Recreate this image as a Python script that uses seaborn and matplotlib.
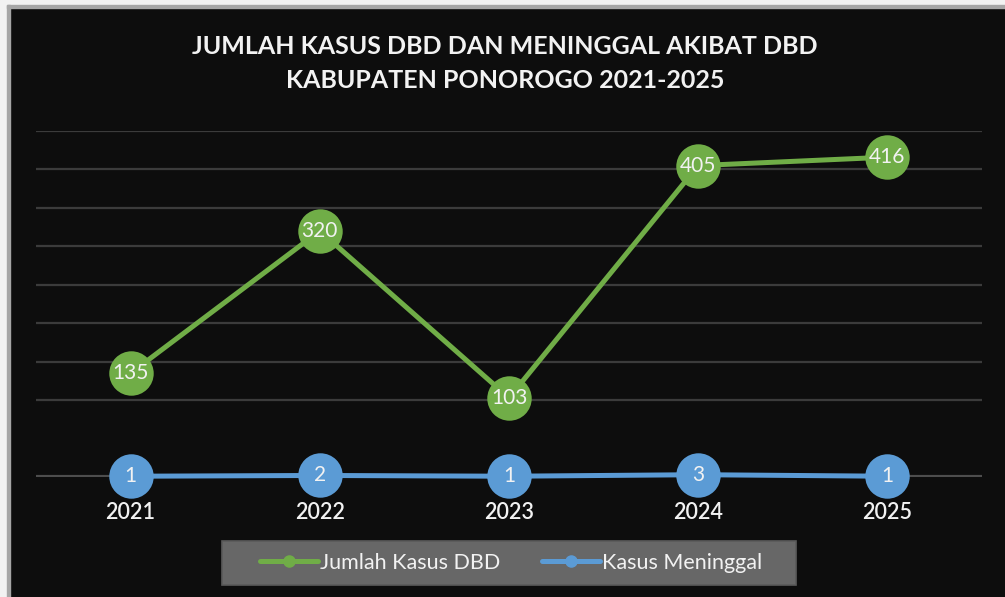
import pandas as pd
import matplotlib.pyplot as plt
import seaborn as sns
from matplotlib.lines import Line2D
from matplotlib.patches import Rectangle

tahun = ["2021", "2022", "2023", "2024", "2025"]
kasus_dbd = [135, 320, 103, 405, 416]
kasus_meninggal = [1, 2, 1, 3, 1]

df = pd.DataFrame({"tahun": range(len(tahun)), "dbd": kasus_dbd, "mati": kasus_meninggal})

sns.set_style("dark")
plt.rcParams["font.family"] = ["Lato", "DejaVu Sans"]

bg = "#0d0d0d"
hijau = "#70ad47"
biru = "#5b9bd5"

fig = plt.figure(figsize=(10.05, 5.97), dpi=100, facecolor=bg)
# frame at top and left edge
fig.patches.append(Rectangle((0, 0), 9 / 1005, 1, transform=fig.transFigure, color="#f2f2f2", zorder=0))
fig.patches.append(Rectangle((0, 1 - 7 / 597), 1, 7 / 597, transform=fig.transFigure, color="#f2f2f2", zorder=0))
fig.patches.append(Rectangle((7 / 1005, 0), 2.5 / 1005, 1 - 5 / 597, transform=fig.transFigure, color="#a6a6a6", zorder=1))
fig.patches.append(Rectangle((7 / 1005, 1 - 7.5 / 597), 1, 2.5 / 597, transform=fig.transFigure, color="#a6a6a6", zorder=1))
# legend box
fig.patches.append(Rectangle((222 / 1005, 1 - 585 / 597), 574 / 1005, 44 / 597, transform=fig.transFigure,
                             facecolor="#676767", edgecolor="#5a5a5a", lw=1.2, zorder=1))

ax = fig.add_axes([36 / 1005, 120 / 597, 946 / 1005, 346 / 597])
ax.set_facecolor(bg)

ax.set_ylim(0, 450)
ax.set_xlim(-0.5, 4.5)
for v in [100, 150, 200, 250, 300, 350, 400, 450]:
    ax.axhline(v, color="#3b3b3b", lw=1.6, zorder=1)
ax.axhline(0, color="#4d4d4d", lw=3, zorder=1)

sns.lineplot(data=df, x="tahun", y="dbd", ax=ax, color=hijau, lw=3.6, marker="o",
             markersize=32, markeredgewidth=0, zorder=3, clip_on=False)
sns.lineplot(data=df, x="tahun", y="mati", ax=ax, color=biru, lw=3.6, marker="o",
             markersize=32, markeredgewidth=0, zorder=3, clip_on=False)

for i, (a, b) in enumerate(zip(kasus_dbd, kasus_meninggal)):
    ax.text(i, a, str(a), ha="center", va="center", color="#f2f2f2", fontsize=15, zorder=5)
    ax.text(i, b, str(b), ha="center", va="center", color="#f2f2f2", fontsize=15, zorder=5)

ax.set_xticks(range(len(tahun)))
ax.set_xticklabels(tahun, color="#f2f2f2", fontsize=15.5, fontweight="semibold")
ax.tick_params(axis="x", length=0, pad=18)
ax.set_yticks([])
ax.set_xlabel("")
ax.set_ylabel("")
ax.grid(False)
for s in ax.spines.values():
    s.set_visible(False)

fig.text(505 / 1005, 1 - 47 / 597, "JUMLAH KASUS DBD DAN MENINGGAL AKIBAT DBD",
         ha="center", va="center", color="#f2f2f2", fontsize=18, fontweight="bold")
fig.text(505 / 1005, 1 - 80 / 597, "KABUPATEN PONOROGO 2021-2025",
         ha="center", va="center", color="#f2f2f2", fontsize=18, fontweight="bold")

handles = [Line2D([0], [0], color=hijau, lw=3.6, marker="o", markersize=8, label="Jumlah Kasus DBD"),
           Line2D([0], [0], color=biru, lw=3.6, marker="o", markersize=8, label="Kasus Meninggal")]
leg = fig.legend(handles=handles, loc="center", bbox_to_anchor=(511 / 1005, 1 - 563 / 597), ncol=2,
                 fontsize=15.5, frameon=False, handlelength=2.7, handletextpad=0.1, columnspacing=1.9,
                 borderpad=0.5, borderaxespad=0)
for t in leg.get_texts():
    t.set_color("#f2f2f2")

fig.savefig("out.png", dpi=100, facecolor=bg)
